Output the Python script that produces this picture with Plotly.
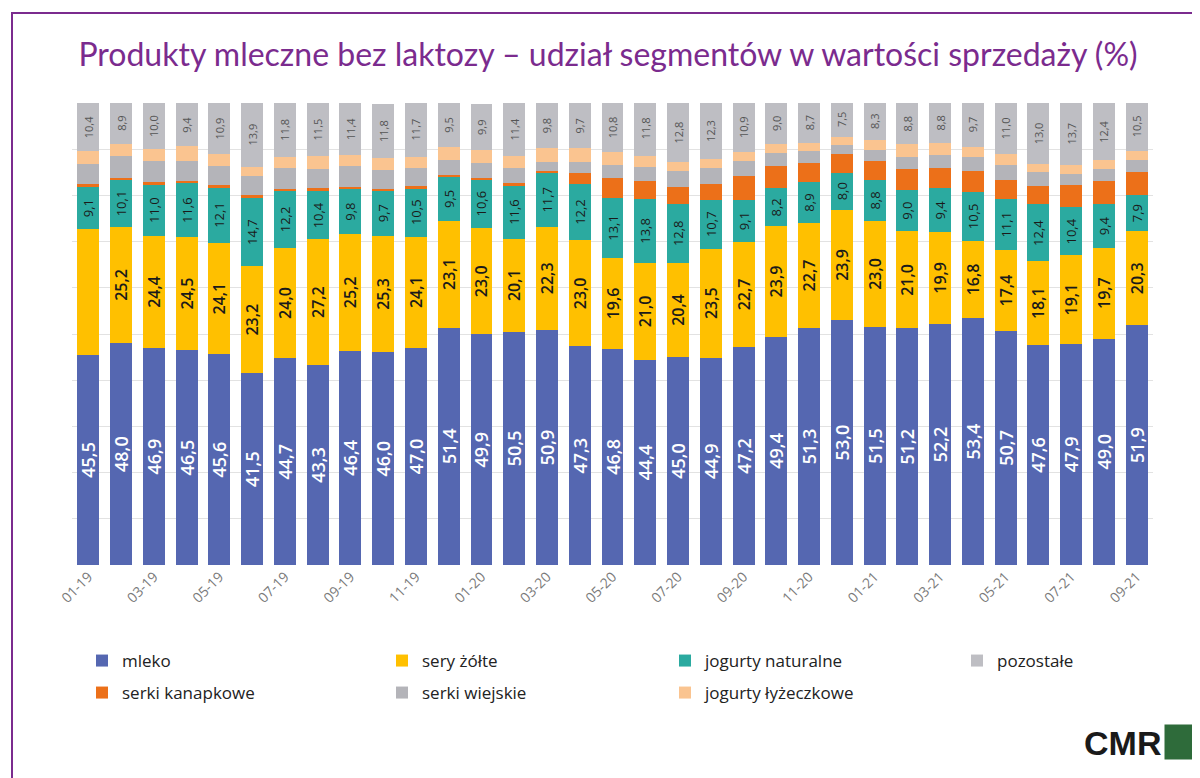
import plotly.graph_objects as go

months = ["01-19","02-19","03-19","04-19","05-19","06-19","07-19","08-19","09-19","10-19","11-19","12-19",
          "01-20","02-20","03-20","04-20","05-20","06-20","07-20","08-20","09-20","10-20","11-20","12-20",
          "01-21","02-21","03-21","04-21","05-21","06-21","07-21","08-21","09-21"]
mleko = [45.5,48.0,46.9,46.5,45.6,41.5,44.7,43.3,46.4,46.0,47.0,51.4,49.9,50.5,50.9,47.3,46.8,44.4,45.0,44.9,47.2,49.4,51.3,53.0,51.5,51.2,52.2,53.4,50.7,47.6,47.9,49.0,51.9]
sery = [27.2,25.2,24.4,24.5,24.1,23.2,24.0,27.2,25.2,25.3,24.1,23.1,23.0,20.1,22.3,23.0,19.6,21.0,20.4,23.5,22.7,23.9,22.7,23.9,23.0,21.0,19.9,16.8,17.4,18.1,19.1,19.7,20.3]
sery_show = [False] + [True]*32
jog_nat = [9.1,10.1,11.0,11.6,12.1,14.7,12.2,10.4,9.8,9.7,10.5,9.5,10.6,11.6,11.7,12.2,13.1,13.8,12.8,10.7,9.1,8.2,8.9,8.0,8.8,9.0,9.4,10.5,11.1,12.4,10.4,9.4,7.9]
kanapkowe = [0.6,0.5,0.5,0.5,0.4,0.6,0.5,0.6,0.5,0.3,0.4,0.4,0.3,0.4,0.4,2.4,4.3,4.0,3.7,3.4,5.2,4.8,4.2,4.0,4.1,4.6,4.4,4.5,4.2,4.0,4.8,5.1,4.9]
wiejskie = [4.5,4.7,4.6,4.4,4.1,4.1,4.5,4.3,4.4,4.1,3.9,3.2,3.3,3.3,2.0,2.4,2.7,3.0,3.3,3.4,3.2,2.8,2.6,2.1,2.4,2.6,2.9,3.1,3.2,2.9,2.4,2.5,2.7]
lyzeczkowe = [2.7,2.7,2.6,3.1,2.7,2.1,2.4,2.7,2.4,2.6,2.5,2.9,2.7,2.7,2.9,2.9,2.8,2.4,2.0,1.9,1.9,2.0,1.7,1.7,2.1,2.7,2.5,2.2,2.4,1.9,1.9,1.9,2.0]
pozostale = [10.4,8.9,10.0,9.4,10.9,13.9,11.8,11.5,11.4,11.8,11.7,9.5,9.9,11.4,9.8,9.7,10.8,11.8,12.8,12.3,10.9,9.0,8.7,7.5,8.3,8.8,8.8,9.7,11.0,13.0,13.7,12.4,10.5]
tick_months = months[::2]

def fmt(vals, show=None):
    return [(f"{v:.1f}".replace(".", ",") if (show is None or show[i]) else "") for i, v in enumerate(vals)]

FONT = "Open Sans"
fig = go.Figure()
series = [
    ("mleko", mleko, "#5567B1", fmt(mleko), dict(color="white", size=18, family=FONT+" Semibold"), "legend8"),
    ("sery żółte", sery, "#FFC000", fmt(sery, sery_show), dict(color="#1a1a1a", size=16, family=FONT+" Semibold"), "legend2"),
    ("jogurty naturalne", jog_nat, "#2BAAA0", fmt(jog_nat), dict(color="#1a1a1a", size=13, family=FONT), "legend3"),
    ("serki kanapkowe", kanapkowe, "#EC7019", None, None, "legend5"),
    ("serki wiejskie", wiejskie, "#B4B4B9", None, None, "legend6"),
    ("jogurty łyżeczkowe", lyzeczkowe, "#FAC490", None, None, "legend7"),
    ("pozostałe", pozostale, "#BEBEC3", fmt(pozostale), dict(color="#555555", size=11, family=FONT), "legend4"),
]
for name, vals, col, txt, tf, lg in series:
    kw = {}
    if txt is not None:
        kw = dict(text=txt, textposition="inside", textangle=-90, insidetextanchor="middle",
                  insidetextfont=tf, constraintext="none")
    fig.add_trace(go.Bar(name=name, x=months, y=vals, marker=dict(color=col, line=dict(width=0)),
                         legend=lg, showlegend=True, hoverinfo="skip", **kw))

def lgd(marker_x, row_y):
    return dict(x=(marker_x - 90) / 1081, y=-(row_y - 557 - 25) / 462, xanchor="left", yanchor="top",
                bgcolor="rgba(0,0,0,0)", font=dict(size=17, color="#222222", family=FONT), itemwidth=30)

fig.update_layout(
    barmode="stack", bargap=0.33,
    width=1200, height=778, showlegend=True,
    paper_bgcolor="white", plot_bgcolor="white",
    margin=dict(l=64, r=55, t=95, b=221),
    font=dict(family=FONT, color="#404040"),
    title=dict(text="Produkty mleczne bez laktozy – udział segmentów w wartości sprzedaży (%)",
               x=0.5, xanchor="center", y=0.94, yanchor="middle",
               font=dict(size=32, color="#7B2B8E", family="Lato")),
    xaxis=dict(type="category", tickmode="array", tickvals=tick_months, ticktext=tick_months,
               tickangle=-45, tickfont=dict(size=14, color="#7a7a7a"), showgrid=False,
               showline=False, ticks=""),
    yaxis=dict(range=[0, 100], dtick=10, showticklabels=False, gridcolor="#e2e2e2",
               gridwidth=1, zeroline=False),
    legend8=lgd(100, 660), legend2=lgd(400, 660), legend3=lgd(683, 660), legend4=lgd(975, 660),
    legend5=lgd(100, 692), legend6=lgd(400, 692), legend7=lgd(683, 692),
)
# border
fig.add_shape(type="rect", xref="paper", yref="paper",
              x0=-60/1081, x1=1+50/1081, y0=-(221-5)/462, y1=1+(95-5)/462,
              line=dict(color="#7B2B8E", width=2), fillcolor="rgba(0,0,0,0)")
# logo
fig.add_annotation(xref="paper", yref="paper", x=1+10/1081, y=-(735-557)/462, xanchor="right", yanchor="middle",
                   text="<b>CMR</b>", showarrow=False, font=dict(size=34, color="#1a1a1a", family="Liberation Sans"))
fig.add_shape(type="rect", xref="paper", yref="paper",
              x0=1+13/1081, x1=1+45/1081, y0=-(750-557)/462, y1=-(718-557)/462,
              line=dict(color="#2E6B3A", width=3), fillcolor="#2E6B3A")
fig.write_html("out.html")
